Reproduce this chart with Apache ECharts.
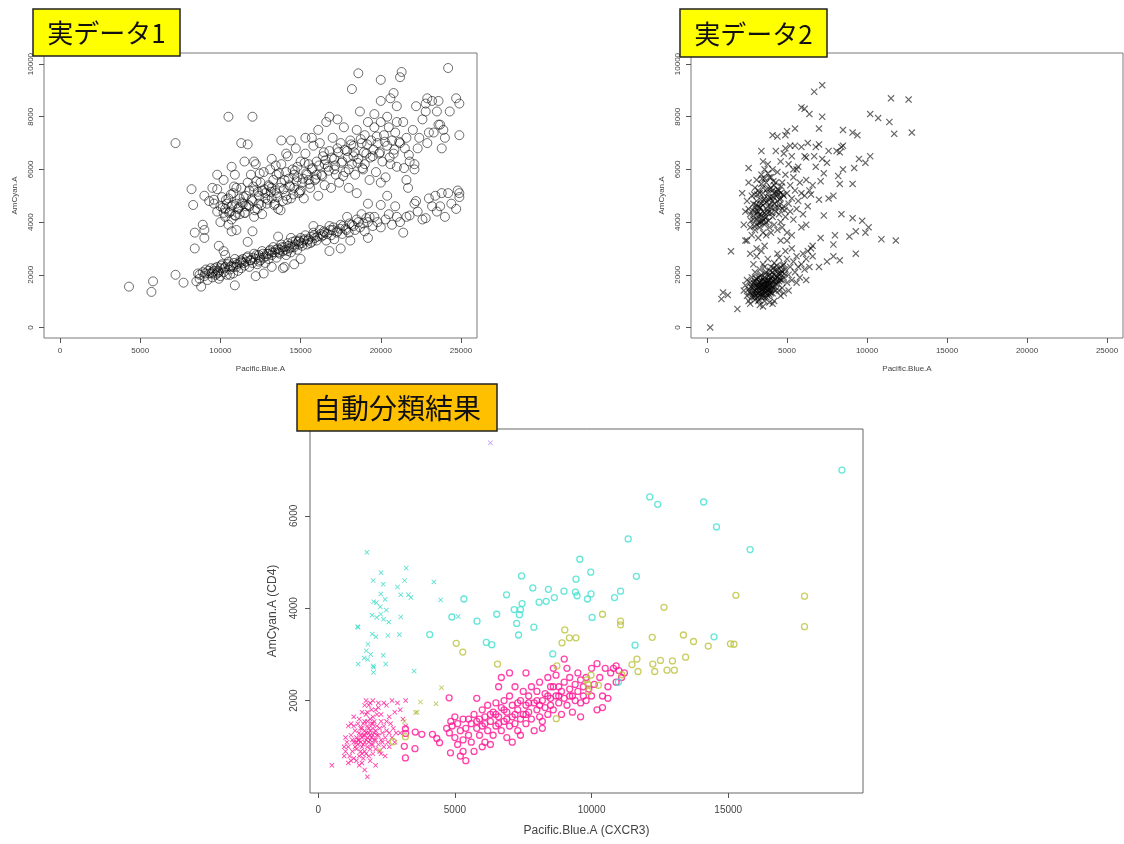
<!DOCTYPE html>
<html>
<head>
<meta charset="utf-8">
<script src="https://cdn.jsdelivr.net/npm/echarts@6.0.0/dist/echarts.min.js"></script>
<style>
html, body { margin: 0; padding: 0; background: #fff; }
#main { width: 1124px; height: 844px; }
</style>
</head>
<body>
<div id="main"></div>
<script>
// ---- tick labels ----
const xTicksReal = [0, 5000, 10000, 15000, 20000, 25000];
const yTicksReal = [0, 2000, 4000, 6000, 8000, 10000];
const xTicksAuto = [0, 5000, 10000, 15000];
const yTicksAuto = [2000, 4000, 6000];

// ---- 実データ1 (Pacific.Blue.A, AmCyan.A) ----
const real1Outliers = [[4300,1550],[5700,1350],[5800,1750],[7200,7000],[7200,2000],[7700,1700],[8200,5250],[8300,4650],[8400,3600],[8400,3000],[8500,1750],[8700,2000],[8800,1550],[8900,3900],[9000,3700],[9000,3400],[10500,8000],[12000,8000],[11300,7000],[11700,6950],[9800,5800],[9800,5250],[9600,4850],[10000,4000],[10500,3900],[10700,3650],[10700,6100],[9900,3100],[10200,2900],[13900,2250],[14600,2400],[15000,2600],[10900,1600],
  [18600,9650],[18200,9050],[20000,9400],[21200,9500],[21300,9700],[24200,9850],[20000,8600],[20800,8900],[20600,8700],[21000,8400],[22900,8700],[22800,8500],[23200,8600],[23600,8600],[24700,8700],[24900,8500],[24300,8200],[24900,7300],[23900,7500],[23800,6800],[23600,7700],[24000,7200],[22900,7000],[22300,6800]];
const real1Lower = [[8600,2050],[8700,1850],[8900,2100],[9000,1950],[9100,2200],[9200,1800],[9300,2050],[9400,2250],[9500,1900],[9600,2150],[9700,2000],[9800,2300],[9900,1850],[9900,2100],[10000,2250],[10000,1950],
  [10100,2400],[10200,2100],[10300,2300],[10400,2000],[10500,2500],[10600,2200],[10700,2350],[10800,2050],[10900,2600],[11000,2300],[11100,2150],[11200,2450],[11300,2250],[11400,2600],[11500,2350],
  [11600,2500],[11700,2700],[11800,2300],[11900,2550],[12000,2450],[12100,2800],[12200,2600],[12300,2400],[12400,2750],[12500,2550],[12600,2900],[12700,2650],[12800,2450],[12900,2800],[13000,2600],
  [13100,2950],[13200,2750],[13300,3050],[13400,2850],[13500,2650],[13600,3000],[13700,2800],[13800,3150],[13900,2900],[14000,3050],[14100,2750],[14200,3200],[14300,3000],[14400,2850],[14500,3250],
  [14600,3050],[14700,3300],[14800,2950],[14900,3150],[15000,3400],[15100,3100],[15200,3300],[15300,3500],[15400,3150],[15500,3350],[15700,3250],[15800,3600],[15900,3400],[16000,3300],
  [16200,3700],[16300,3450],[16500,3600],[16600,3300],[16800,3850],[16900,3500],[17000,3700],[17100,3350],[17300,3650],[17500,3900],[17600,3550],[17800,3750],[17900,4200],[18000,3600],
  [18200,3900],[18400,3700],[18500,4100],[18700,3800],[18800,4300],[19000,3650],[19200,4000],[19300,4200],[19500,3850],[19600,4200],[19800,4000],[20000,4650],[20000,3800],
  [20300,4100],[20500,4300],[20700,3900],[20900,4600],[21000,4200],[21200,4000],[21400,3600],[21600,4200],[21800,4250],[22100,4700],[22200,4800],[22300,4400],[22600,4100],[22800,4150],[23000,4900],[23200,4600],[23400,5000],[23500,4400],[23700,4600],[23800,5100],[24000,4200],[24200,5100],[24400,4700],[24700,4500],[24800,5200],[24900,4950],[24900,5100],
  [11000,3700],[12000,3650],[11700,3250],[12700,2050],[13600,3450],[14400,3400],[15800,3850],[16800,2900],[17500,3000],[18100,3300],[19200,3400],[14000,2300],[12200,1950],[13200,2300],[10300,2750],
  [9500,2100],[10600,2000],[11300,2500],[12400,2500],[13000,2800],[13700,2950],[14200,2900],[14900,3300],[15600,3200],[16400,3500],[9800,2050],[10800,2300],
  [9050,2050],[9250,2150],[9450,2050],[9650,2250],[9850,2150],[10050,2350],[10250,2250],[10450,2400],[10650,2300],[10850,2450],[11050,2400],[11250,2550],[11450,2450],[11650,2650],[11850,2550],[12050,2650],[12250,2750],[12450,2650],[12650,2800],[12850,2700],[13050,2900],[13250,2850],[13450,2950],[13650,2850],[13850,3050],[14050,2950],[14250,3100],[14450,3050],[14650,3150],[14850,3250],[15050,3200],[15250,3350],[15450,3300],[15650,3450],[15850,3500],[16050,3450],[16250,3550],[16450,3650],[16650,3550],[16850,3700],[17050,3800],[17250,3600],[17450,3750],[17650,3850],[17850,3700],[18050,3950],[18300,3850],[18600,4000],[18900,3950],[19100,4150]];
const real1Upper = [[9300,4800],[9600,4700],[9800,4400],[10000,4600],[10100,4950],[10200,4350],[10300,4200],[10400,4700],[10500,4900],[10600,4400],[10700,4600],[10800,5100],[10900,4250],[11000,4700],[11100,4500],[11200,4900],[11300,5300],[11400,4700],[11500,4350],[11600,5000],[11700,5500],[11800,4600],[11900,5800],[12000,4800],[12100,5200],[12200,6200],[12300,4500],[12400,5000],[12500,5500],[12600,4300],[12700,5900],[12800,5100],[12900,4700],[13000,5400],[13100,6000],[13200,4900],[13300,5600],[13400,5200],[13500,5800],[13600,4500],[13700,5300],[13800,6200],[13900,4800],[14000,5600],[14100,5000],[14200,6500],[14300,5400],[14400,4900],[14500,6000],[14600,5300],[14700,6800],[14800,5700],[14900,5100],[15000,6300],[15100,5500],[15200,4900],[15300,6600],[15400,5800],[15500,6200],[15600,5300],[15700,6000],[15800,6900],[15900,5600],[16000,6300],[16100,5000],[16200,7000],[16300,5800],[16400,6500],[16500,5400],[16600,7800],[16700,6100],[16800,6700],[16900,5300],[17000,7200],[17100,6400],[17200,5800],[17300,6800],[17400,5500],[17500,7000],[17600,6300],[17700,7600],[17800,5900],[17900,6700],[18000,5300],[18100,7100],[18200,6200],[18300,6900],[18400,5800],[18500,7500],[18600,6400],[18700,8200],[18800,7000],[18900,6000],[19000,7300],[19100,6600],[19200,7800],[19300,5600],[19400,7100],[19500,6500],[19600,7600],[19700,5900],[19800,7000],[19900,6600],[20000,7800],[20100,6300],[20200,7300],[20300,5700],[20400,6900],[20500,7600],[20600,6200],[20700,7100],[20800,6600],[20900,7400],[21000,6100],[21200,7000],[21400,7800],[21500,6800],[21600,7200],[21800,6300],[22000,7500],[22100,6200],[22200,8400],[22400,7200],[22600,7900],[22800,8200],[23000,7400],[23300,7400],[23500,8200],[23700,7700],
  [9000,5000],[9500,5300],[10200,5600],[10900,5800],[11500,6300],[12100,6300],[13200,6400],[14400,7100],[14100,6600],[13800,7100],[15300,7200],[15700,7200],[16100,7500],[16800,8000],[17300,7900],[18000,6000],[18500,5100],[19200,4700],[20000,5500],[20400,5000],[21600,5600],[21700,5300],[22100,6000],[19600,8100],[20400,8000],[21000,7800],
  [10300,4500],[10700,4100],[11200,4300],[11600,4600],[12100,4200],[12400,4700],[12800,4900],[13200,5300],[13500,5100],[13800,5500],[14100,5900],[14600,5800],[15000,5200],[15500,5600],[16000,5800],[11000,5300],[11800,5200],[12600,5200],[13400,4700],[14800,6100],[16500,6200],[17100,6000],[18300,6500],[19000,6200],
  [10150,4550],[10350,4850],[10550,4350],[10750,4650],[10950,4250],[11150,4550],[11350,4750],[11550,4350],[11750,4650],[11950,4850],[12150,4450],[12350,5150],[12550,4650],[12750,5250],[12950,4850],[13150,5150],[13350,4650],[13550,4950],[13750,4450],[13950,5250],[14150,4850],[14350,5350],[14550,5050],[14750,5550],[14950,5150],[15150,5650],[15350,5850],[15550,5450],[15750,6050],[15950,5650],[16150,6150],[16350,5750],[16550,6350],[16750,5950],[16950,6450],[17150,6150],[17350,6650],[17550,6250],[17750,6750],[17950,6450],[18150,6950],[18350,6650],[18550,6250],[18750,7150],[18950,6650],[19150,6950],[19350,6450],[19550,6750],[19750,7250],[19950,6650],[20250,7050],[20550,6450],[20850,6750],[21150,7050],[21450,6050],[21750,6550],[12050,5350],[12450,5850],[13050,5350],[13650,5850],[14250,5650],[11450,4950],[10650,5050],[10850,5350],[12250,5550],[13450,6150],[14650,5950],[15250,6250],[16450,6650],[17650,5750],[18850,6050]];

// ---- 実データ2 ----
const real2Outliers = [[200,0],[900,1080],[1000,1330],[1300,1230],[1500,2890],[1900,700],[2200,5100],[2600,6050],[3400,6700],[4100,7300],[4400,7250],[4900,7300],[5000,7450],[5500,7550],[7000,7550],[7200,8000],[6700,8950],[7200,9200],[5900,8350],[6100,8300],[6400,8100],[10200,8100],[10700,7950],[11400,7800],[11500,8700],[12600,8650],[11700,7350],[12800,7400],[8500,7500],[9100,7400],[9400,7300],[8100,6700],[8400,6850],[9500,6400],[9900,6250],[10200,6500],[9100,5450],[9200,6050],[7300,4250],[8400,4300],[9100,4150],[9700,4050],[10100,3800],[9900,3600],[9300,3650],[8900,3450],[10900,3350],[11800,3300],[9300,2800],[8300,2550],[7900,2700],[7500,2500],[7000,2300],[8000,3500],[7900,3150],[6600,3100],[6500,3000],[7100,3400],
  [4900,6800],[5200,6900],[5900,6850],[6800,6850],[7000,6950],[6700,6500],[6200,6450],[7200,6400],[7300,5850],[7100,5550],[6600,5400],[6200,5600],[5900,5100],[6500,5050],[7000,4850],[7600,4900],[7900,5000],[8300,5450],[8200,5750],[8500,6000],[8300,6650],[8500,6900],[7600,6700],[7500,6250],[6800,6100],[5400,6000],[5700,6100]];
const real2Upper = [[2600,4500],[2700,3800],[2700,4300],[2800,5000],[2800,3500],[2900,4100],[2900,4700],[3000,3700],[3000,5300],[3000,4400],[3100,3900],[3100,4800],[3100,5600],[3200,4200],[3200,4600],[3200,3400],[3300,5100],[3300,3800],[3300,4300],[3400,5800],[3400,4000],[3400,4700],[3500,3600],[3500,5300],[3500,4400],[3600,6000],[3600,4900],[3600,3900],[3700,4200],[3700,5500],[3700,3500],[3800,4600],[3800,5100],[3800,6200],[3900,3800],[3900,4400],[3900,5700],[4000,4900],[4000,3600],[4000,5300],[4100,4200],[4100,6000],[4200,4700],[4200,3900],[4200,5100],[4300,5500],[4300,4400],[4400,3700],[4400,4800],[4400,5900],[4500,4300],[4500,5200],[4600,4000],[4600,4900],[4600,6300],[4700,5500],[4700,3800],[4800,4600],[4800,5000],[4900,5800],[4900,4200],[5000,5100],[5000,3600],[5100,4700],[5100,6200],[5200,5400],[5200,4400],[5300,4900],[5400,5700],[5400,4100],[5500,5200],[5600,4500],[5600,6000],[5700,4800],[5800,5500],[5900,3800],[6000,4300],[6100,5000],[6200,3900],[6300,4600],[6400,5200],[2500,3300],[2400,4400],[2300,3900],[2500,4800],[2600,5500],[2400,3300],[3500,6300],[4300,6700],[4800,6600],[5300,6500],[5500,6900],[6100,6500],[6300,7000],[4600,3300],[5000,3300],[5300,3500],[3600,3100],[3100,3000],[2700,2800],
  [2900,4250],[3000,4550],[3100,4100],[3200,4400],[3300,4000],[3300,4550],[3400,4250],[3500,4050],[3500,4650],[3600,4350],[3700,4750],[3700,4000],[3800,4350],[3900,4950],[4000,4550],[4100,4800],[4100,5200],[4200,5400],[4300,5000],[4400,5250],[4500,4650],[4600,5100],[4700,4500],[3400,5450],[3600,5650],[3800,5850],[4000,5700],[3200,5200],[3500,5100],[3900,5250],
  [2750,4050],[2850,4450],[2950,3850],[3050,4650],[3150,4350],[3250,3950],[3350,4550],[3450,4150],[3550,4850],[3650,4150],[3750,4450],[3850,4050],[3950,4650],[4050,4350],[4150,4950],[4250,4550],[4350,5150],[4450,4550],[4550,4850],[4650,5350],[4750,5050],[4850,4450],[3350,4850],[3450,5650],[3750,5250],[4150,5550],[3150,5050],[2950,5050],[3850,4850],[4450,5050]];
const real2Lower = [[2300,1400],[2400,1600],[2500,1200],[2500,1800],[2600,1450],[2600,1000],[2700,1700],[2700,1300],[2800,1900],[2800,1150],[2900,1550],[2900,1350],[3000,1750],[3000,1050],[3000,2100],[3100,1450],[3100,1250],[3200,1650],[3200,1900],[3200,1000],[3300,1350],[3300,2200],[3300,1550],[3400,1150],[3400,1750],[3400,2000],[3500,1450],[3500,1250],[3500,2400],[3600,1650],[3600,1900],[3600,1000],[3700,1350],[3700,2100],[3700,1550],[3800,1800],[3800,1200],[3800,2600],[3900,1450],[3900,2000],[3900,1650],[4000,2300],[4000,1300],[4000,1850],[4100,1550],[4100,2100],[4200,1750],[4200,2450],[4200,1000],[4300,1950],[4300,1400],[4400,2200],[4400,1650],[4500,2000],[4500,2650],[4600,1800],[4600,2300],[4700,2100],[4700,1500],[4800,2400],[4800,1900],[4900,2200],[5000,1700],[5000,2600],[5100,2000],[5200,2300],[5300,1800],[5400,2500],[5500,2100],[5600,2700],[5700,2300],[5800,1900],[5900,2400],[6000,2800],[6100,2200],[6200,2600],[6300,2900],[6400,2300],[6600,2700],[6200,1800],[5600,1700],[5100,1400],[4600,1200],[2900,2400],[3100,2700],[3400,2900],[3600,2300],[4400,2800],[4900,2900],[5300,3000],[4100,900],[3500,800],[3900,950],[2700,900],[3300,850],[4500,1400],[4800,1300],
  [2800,1500],[2900,1700],[3000,1400],[3100,1600],[3100,1850],[3200,1300],[3300,1700],[3400,1450],[3400,1250],[3500,1650],[3500,1850],[3600,1350],[3600,1500],[3700,1750],[3700,1150],[3800,1550],[3800,1400],[3900,1250],[3900,1800],[4000,1600],[4000,1450],[4100,1750],[4100,1300],[4200,1550],[4200,2000],[4300,1650],[4300,2200],[4400,1900],[4500,1750],[4600,2050],[4700,1800],[3000,1250],[3200,1550],[3400,1600],[3600,1750],[3800,1650],
  [2650,1350],[2750,1550],[2850,1250],[2950,1650],[3050,1350],[3050,1850],[3150,1550],[3150,1150],[3250,1750],[3250,1450],[3350,1250],[3350,1950],[3450,1550],[3450,1350],[3550,1750],[3550,1150],[3650,1450],[3650,2050],[3750,1650],[3750,1250],[3850,1950],[3850,1450],[3950,1350],[3950,2150],[4050,1700],[4050,1950],[4150,1450],[4150,2250],[4250,1850],[4350,1750],[4350,2350],[4450,2050],[4550,1850],[4650,2150],[4750,2350],[4850,2050],[2950,1150],[3250,1050],[3550,1550],[3850,1750]];

// ---- 自動分類結果 (Pacific.Blue.A (CXCR3), AmCyan.A (CD4)) ----
const pinkCircles = [[3190,1390],[3200,1290],[3550,1320],[3790,1270],[4180,1270],[4340,1180],[4440,1090],[3150,1010],[3540,960],[3190,760],[4790,2060],[4840,870],
  [4700,1400],[4800,1300],[4900,1450],[5000,1200],[5100,1500],[5100,1050],[5200,1350],[5300,1600],[5300,1150],[5400,1400],[5500,1250],[5000,1650],[4850,1550],[5200,800],[5300,900],[5400,700],[5700,900],[5600,1100],
  [5600,1500],[5700,1700],[5800,1400],[5900,1600],[5900,1250],[6000,1800],[6000,1450],[6100,1650],[6200,1350],[6200,1900],[6300,1550],[6400,1750],[6400,1250],[6500,1450],[6500,1950],[6100,1100],[6300,1050],[5800,2050],[6000,1000],
  [6600,1650],[6700,1850],[6700,1350],[6800,2000],[6800,1550],[6900,1750],[7000,1450],[7000,2100],[7100,1650],[7100,1900],[7200,1500],[7200,2300],[7300,1800],[7300,1350],[7400,2000],[7400,1600],[7500,1700],[7500,2200],[6900,1200],[7100,1100],[6600,2300],[6700,2500],[7000,2600],[7400,1250],
  [7600,1900],[7600,1500],[7700,2100],[7700,1750],[7800,1600],[7800,2300],[7900,1950],[8000,1800],[8000,2200],[8100,1650],[8100,2400],[8200,2000],[8200,1550],[8300,1850],[8300,2150],[8400,2500],[8400,1700],[8500,2050],[8500,1900],[7600,2600],[7900,1350],[8200,1400],
  [8600,2300],[8600,1800],[8700,2100],[8700,2550],[8800,1950],[8800,2300],[8900,2200],[8900,1700],[9000,2400],[9000,2050],[9100,2700],[9100,1900],[9200,2250],[9200,2500],[9300,2100],[9300,1750],[9400,2350],[9400,2000],[9500,2200],[9500,2600],[8600,2700],[9000,2900],
  [9600,2450],[9600,1950],[9700,2300],[9700,2100],[9800,2500],[9800,2000],[9900,2250],[10000,2700],[10000,2100],[10100,2350],[10200,1800],[10300,2500],[10400,2100],[10400,1850],[10500,2700],[10600,2300],[10700,2600],[10800,2700],[10900,2400],[11000,2650],[11100,2500],[11200,2600],[10600,2050],[10200,2800],[10900,2750],[9600,1650],
  [5500,1600],[5800,1550],[6100,1500],[6300,1700],[6600,1500],[6900,1600],[7200,1700],[7600,1700],[8000,2000],[8400,2100],[8800,2100],[9200,2100],[6500,1700],[6800,1800],[7300,1950],[7700,1950],[8100,1900],[8500,2300]];
const pinkCrosses = [[500,600],[1800,350],[2100,600],[1100,650],[1500,600],[1700,500],[2300,850],[2600,1000],[2900,1950],[3000,1800],[2700,2000],[3200,2000],[2400,1950],[2000,2000],[1900,1950],[2200,1850],[2500,1900],[2800,1750],[3100,1600],[3200,1450],[3000,1300],[2600,1650],[2300,1700],[1000,1200],[1000,900],[1200,1500],[1100,1450],[1300,1650],
  [1100,1000],[1150,800],[1200,1250],[1250,900],[1300,1100],[1300,750],[1350,1350],[1400,950],[1400,1200],[1450,1050],[1450,1500],[1500,800],[1500,1300],[1550,1100],[1550,900],[1600,1400],[1600,1000],[1650,1250],[1650,750],[1700,1550],[1700,1100],[1700,900],[1750,1300],[1750,1700],[1800,1000],[1800,1200],[1800,1450],[1850,1100],[1850,800],[1900,1350],[1900,1600],[1900,950],[1950,1200],[1950,1800],[2000,1050],[2000,1400],[2000,850],[2050,1300],[2050,1550],[2100,1150],[2100,950],[2150,1450],[2150,1700],[2200,1250],[2200,1050],[2250,1400],[2300,1150],[2300,1550],[2350,1300],[2400,1000],[2400,1450],[2450,1200],[2500,1350],[2500,1550],[2550,1100],[2600,1300],[2650,1500],[2700,1200],[2750,1400],[2800,1100],[2850,1300],[1200,700],[1400,700],[1600,650],[1900,700],[1300,1450],[1500,1600],[1600,1750],[1700,1900],[1800,1750],[2000,1650],[2100,1800],[2200,1950],[1750,2000],[1850,1900],[1650,1500],[1950,1500],[1350,1000],[1450,1150],[1250,1150],[1550,1250],[1650,1050],[1750,1150],[1850,1300],[1950,1050],[2050,1150],[2150,1250],[2250,900],[2350,1100],[2450,800],[1050,1100],[950,1000],[950,800],
  [1500,1150],[1600,1200],[1700,1350],[1800,1550],[1900,1150],[2000,1250],[2100,1350],[1400,1100],[1600,850],[1750,850],[1850,1400],[2000,1500],[1700,1250],[1550,1400],[1900,1250]];
const cyanCircles = [[19160,6990],[12130,6410],[12420,6250],[14100,6300],[14570,5760],[15800,5270],[11340,5500],[9570,5060],[9970,4780],[11640,4690],[7440,4700],[9430,4630],[7850,4440],[8420,4410],[8990,4370],[9410,4350],[9470,4270],[9980,4310],[9850,4200],[11060,4370],[10840,4230],[8640,4230],[8340,4150],[8080,4130],[6890,4290],[7460,4100],[7170,3970],[7400,3970],[7360,3860],[6530,3870],[5330,4200],[4890,3810],[5810,3720],[7260,3670],[7890,3590],[7330,3420],[4080,3430],[6150,3260],[6350,3210],[8580,3010],[10020,3800],[11590,3200],[14480,3380],[10980,2400]];
const cyanCrosses = [[1780,5210],[2300,4770],[2010,4600],[2380,4520],[3220,4870],[3160,4600],[2900,4460],[4230,4570],[2290,4310],[3020,4290],[3300,4290],[3390,4230],[4480,4180],[2450,4190],[2030,4140],[2130,4120],[2270,4030],[2490,3960],[1970,3850],[2290,3870],[2140,3800],[2390,3760],[2580,3700],[3020,3810],[1440,3600],[1460,3590],[1980,3440],[2110,3380],[2550,3410],[2970,3430],[1820,3220],[1760,3080],[1920,3000],[2380,2980],[1680,2920],[1810,2890],[1460,2790],[2010,2750],[2030,2720],[2470,2790],[2020,2610],[3510,2640],[5120,3820]];
const oliveCircles = [[15280,4280],[17790,4260],[17790,3600],[12650,4020],[10400,3870],[11060,3720],[11060,3640],[9020,3530],[9190,3360],[9430,3360],[8920,3250],[5050,3240],[5290,3050],[12220,3370],[13360,3420],[13730,3280],[14270,3180],[15080,3230],[15210,3220],[6560,2790],[8730,2750],[11480,2780],[11660,2900],[12240,2790],[12310,2630],[12520,2870],[12760,2660],[12960,2860],[13030,2660],[13440,2940],[11700,2630],[9980,2550],[9870,2350],[10250,2330],[11110,2560],[9890,2200],[8710,1610],[3190,1220],[2740,1110],[9820,2450]];
const oliveCrosses = [[4510,2280],[3740,1970],[4310,1930],[3560,1740],[3620,1750],[3150,1550],[2250,930]];
const purpleCrosses = [[6300,7580]];

const crossPath = 'path://M0,1.2L1.2,0L5,3.8L8.8,0L10,1.2L6.2,5L10,8.8L8.8,10L5,6.2L1.2,10L0,8.8L3.8,5Z';
const FONT = '"Liberation Sans", Arial, sans-serif';
const plain = v => String(v);

function xAxisOf(gi, min, max, ticks, name, fs, nameFs, margin, nameGap) {
    return {
        type: 'value', gridIndex: gi, min: min, max: max, position: 'bottom',
        axisLine: { show: false, onZero: false },
        axisTick: { show: true, inside: false, length: 5, customValues: ticks, lineStyle: { color: '#555' } },
        axisLabel: { customValues: ticks, formatter: plain, fontSize: fs, fontFamily: FONT, color: '#444', margin: margin },
        splitLine: { show: false },
        name: name, nameLocation: 'middle', nameGap: nameGap,
        nameTextStyle: { fontSize: nameFs, fontFamily: FONT, color: '#444' }
    };
}
function yAxisOf(gi, min, max, ticks, name, fs, nameFs, margin, nameGap) {
    return {
        type: 'value', gridIndex: gi, min: min, max: max, position: 'left',
        axisLine: { show: false, onZero: false },
        axisTick: { show: true, inside: false, length: 5, customValues: ticks, lineStyle: { color: '#555' } },
        axisLabel: { customValues: ticks, formatter: plain, rotate: 90, fontSize: fs, fontFamily: FONT, color: '#444', margin: margin },
        splitLine: { show: false },
        name: name, nameLocation: 'middle', nameGap: nameGap, nameRotate: 90,
        nameTextStyle: { fontSize: nameFs, fontFamily: FONT, color: '#444' }
    };
}
function circles(xi, data, color, size, bw) {
    return {
        type: 'scatter', xAxisIndex: xi, yAxisIndex: xi, data: data, symbol: 'circle', symbolSize: size, silent: true,
        itemStyle: { color: 'rgba(0,0,0,0)', borderColor: color, borderWidth: bw }
    };
}
function crosses(xi, data, color, size) {
    return {
        type: 'scatter', xAxisIndex: xi, yAxisIndex: xi, data: data, symbol: crossPath, symbolSize: size, silent: true,
        itemStyle: { color: color }
    };
}
function titleBox(x, y, w, h, fill, text, fs) {
    return [
        { type: 'rect', z: 100, shape: { x: x, y: y, width: w, height: h }, style: { fill: fill, stroke: '#222', lineWidth: 1.5 } },
        { type: 'text', z: 101, x: x + w / 2, y: y + h / 2 + 1,
          style: { text: text, font: fs + 'px "Noto Sans CJK JP", sans-serif', fill: '#111', align: 'center', verticalAlign: 'middle' } }
    ];
}

const chart = echarts.init(document.getElementById('main'));
const gridBase = { show: true, borderColor: '#7a7a7a', borderWidth: 1, backgroundColor: '#fff', outerBoundsMode: 'none', containLabel: false };
chart.setOption({
    animation: false,
    backgroundColor: '#fff',
    grid: [
        Object.assign({ left: 44, top: 53, width: 433, height: 285 }, gridBase),
        Object.assign({ left: 691, top: 53, width: 432, height: 285 }, gridBase),
        Object.assign({ left: 310, top: 429, width: 553, height: 364 }, gridBase, { borderColor: '#666' })
    ],
    xAxis: [
        xAxisOf(0, -1000, 26000, xTicksReal, 'Pacific.Blue.A', 8, 8, 9, 27),
        xAxisOf(1, -1000, 26000, xTicksReal, 'Pacific.Blue.A', 8, 8, 9, 27),
        xAxisOf(2, -300, 19930, xTicksAuto, 'Pacific.Blue.A (CXCR3)', 10, 12, 12, 32)
    ],
    yAxis: [
        yAxisOf(0, -400, 10420, yTicksReal, 'AmCyan.A', 8, 8, 9, 25),
        yAxisOf(1, -400, 10420, yTicksReal, 'AmCyan.A', 8, 8, 9, 25),
        yAxisOf(2, 0, 7880, yTicksAuto, 'AmCyan.A (CD4)', 10, 12, 11, 31)
    ],
    series: [
        circles(0, real1Lower, 'rgba(0,0,0,0.7)', 9, 1),
        circles(0, real1Upper, 'rgba(0,0,0,0.7)', 9, 1),
        circles(0, real1Outliers, 'rgba(0,0,0,0.7)', 9, 1),
        crosses(1, real2Lower, 'rgba(0,0,0,0.75)', 7),
        crosses(1, real2Upper, 'rgba(0,0,0,0.75)', 7),
        crosses(1, real2Outliers, 'rgba(0,0,0,0.75)', 7),
        circles(2, pinkCircles, '#FF1493', 6, 1.3),
        crosses(2, pinkCrosses, '#FF1493', 5),
        circles(2, cyanCircles, '#3FE0D0', 6, 1.3),
        crosses(2, cyanCrosses, '#2FD9C4', 5),
        circles(2, oliveCircles, '#BCC23A', 6, 1.3),
        crosses(2, oliveCrosses, '#AEB834', 5),
        crosses(2, purpleCrosses, '#B48CFF', 5)
    ],
    graphic: [].concat(
        titleBox(33, 9, 147, 47, '#FFFF00', '実データ1', 26),
        titleBox(680, 9, 147, 48, '#FFFF00', '実データ2', 26),
        titleBox(297, 384, 200, 47, '#FFC000', '自動分類結果', 28)
    )
});
</script>
</body>
</html>
